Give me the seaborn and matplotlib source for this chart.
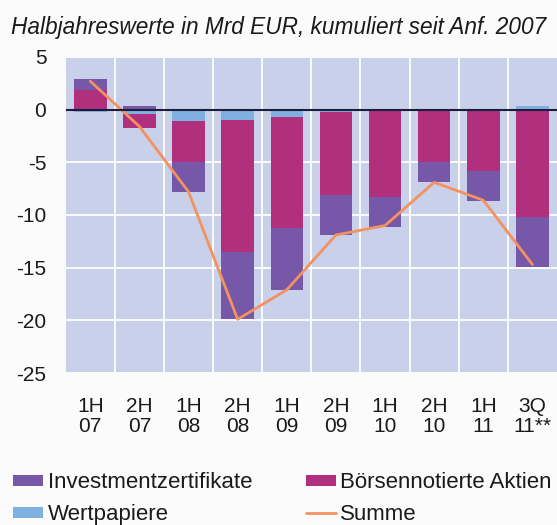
import matplotlib
matplotlib.use("Agg")
import matplotlib.pyplot as plt
import numpy as np
import pandas as pd
import seaborn as sns

# Halbjahreswerte, Mrd EUR
perioden = ["1H\n07", "2H\n07", "1H\n08", "2H\n08", "1H\n09",
            "2H\n09", "1H\n10", "2H\n10", "1H\n11", "3Q\n11**"]
wertpapiere = [-0.2, -0.4, -1.1, -1.0, -0.7, -0.2, 0.0, 0.0, 0.0, 0.3]
aktien = [1.9, -1.3, -3.9, -12.5, -10.5, -7.9, -8.3, -5.0, -5.8, -10.2]
investment = [1.0, 0.3, -2.8, -6.4, -5.9, -3.8, -2.8, -1.9, -2.9, -4.7]
summe = [2.7, -1.6, -7.8, -19.9, -17.1, -11.9, -11.0, -6.9, -8.6, -14.7]

farben = {"Wertpapiere": "#80b0e0",
          "Börsennotierte Aktien": "#b0307e",
          "Investmentzertifikate": "#7657a8"}
reihen = {"Wertpapiere": wertpapiere,
          "Börsennotierte Aktien": aktien,
          "Investmentzertifikate": investment}

sns.set_style("white")
plt.rcParams["font.family"] = ["Liberation Sans", "DejaVu Sans"]
plt.rcParams["text.color"] = "#1a1a1a"
plt.rcParams["axes.unicode_minus"] = False

fig = plt.figure(figsize=(5.57, 5.25), dpi=100)
fig.patch.set_facecolor("#fbfbfb")
ax = fig.add_axes([0.118, 0.2895, 0.882, 0.602])
ax.set_facecolor("#c9d0ea")

x = np.arange(len(perioden))
pos = np.zeros(len(x))
neg = np.zeros(len(x))
for name, werte in reihen.items():
    w = np.array(werte)
    unten = np.where(w >= 0, pos, neg)
    ax.bar(x, w, bottom=unten, width=0.66, color=farben[name],
           label=name, zorder=3, linewidth=0)
    pos = pos + np.clip(w, 0, None)
    neg = neg + np.clip(w, None, 0)

df = pd.DataFrame({"x": x, "summe": summe})
sns.lineplot(data=df, x="x", y="summe", ax=ax, color="#f3925f",
             linewidth=2, zorder=4, label="Summe")

ax.axhline(0, color="#1c1c3c", linewidth=1.5, zorder=5)

ax.set_xlim(-0.5, len(x) - 0.5)
ax.set_ylim(-25, 5)
ax.set_yticks(np.arange(-25, 6, 5))
ax.set_xticks(x)
ax.set_xticklabels(perioden, linespacing=1.1)
ax.set_xticks(x[:-1] + 0.5, minor=True)
ax.grid(axis="y", which="major", color="white", linewidth=1.3, zorder=1)
ax.grid(axis="x", which="minor", color="white", linewidth=1.3, zorder=1)
ax.set_axisbelow(True)
ax.tick_params(axis="both", which="both", length=0, labelsize=15,
               labelcolor="#1a1a1a")
ax.tick_params(axis="y", pad=14)
ax.tick_params(axis="x", pad=17)
ax.set_xlabel("")
ax.set_ylabel("")
for s in ax.spines.values():
    s.set_visible(False)
ax.get_legend().remove()

fig.text(0.02, 0.947, "Halbjahreswerte in Mrd EUR, kumuliert seit Anf. 2007",
         style="italic", fontsize=16.3, va="center", ha="left")

handles, labels = ax.get_legend_handles_labels()
lookup = dict(zip(labels, handles))
reihenfolge = ["Investmentzertifikate", "Wertpapiere",
               "Börsennotierte Aktien", "Summe"]
fig.legend([lookup[l] for l in reihenfolge], reihenfolge, ncol=2,
           loc="lower left", bbox_to_anchor=(-0.004, -0.03), frameon=False,
           fontsize=16, handlelength=1.35, handleheight=0.4,
           handletextpad=0.2, labelspacing=0.5, columnspacing=2.4,
           borderaxespad=0.3)

fig.savefig("out.png", dpi=100, facecolor=fig.get_facecolor())
